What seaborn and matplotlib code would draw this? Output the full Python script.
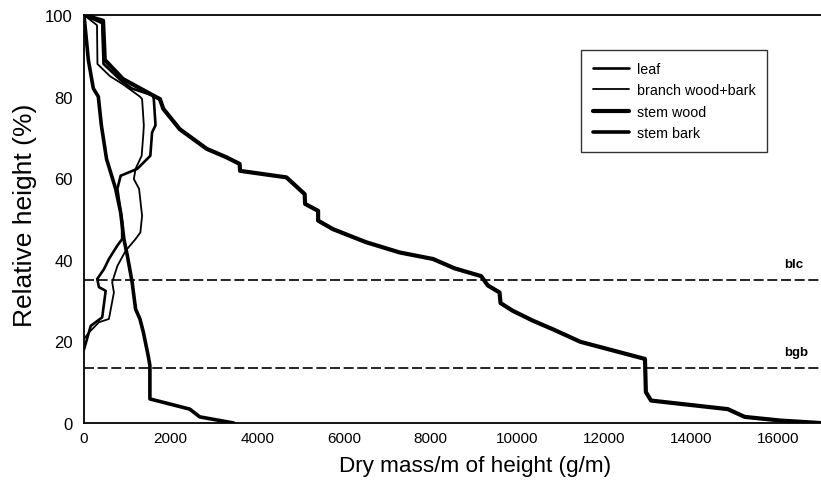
import numpy as np
import pandas as pd
import matplotlib
matplotlib.use("Agg")
import matplotlib.pyplot as plt
import seaborn as sns

# ---- data (x = dry mass g/m, y = relative height %) ----
stem_wood_x = [0, 440, 480, 900, 1590, 1750, 1830, 2210, 2830, 3290, 3590, 3600, 4670, 5090,
               5100, 5400, 5400, 5745, 6510, 7280, 8050, 8550, 9160, 9316, 9585, 9608, 9890,
               10350, 10810, 11450, 12940, 12960, 13080, 14850, 15240, 16070, 16980]
stem_wood_y = [100, 98.6, 89, 84.3, 80.3, 79.4, 77, 72, 67.2, 65.1, 63.5, 61.8, 60.2, 56.1,
               53.7, 52, 49.6, 47.5, 44.3, 41.8, 40.2, 37.9, 36, 33.7, 32, 29.4, 27.5,
               25.1, 23, 19.9, 15.7, 7.6, 5.5, 3.4, 1.5, 0.6, 0]

stem_bark_x = [0, 100, 215, 330, 400, 520, 730, 845, 920, 1000, 1110, 1190, 1290, 1370,
               1480, 1520, 1520, 2440, 2670, 3450]
stem_bark_y = [100, 89, 82, 80, 73, 64.7, 57.4, 51.6, 45.1, 41, 34.5, 27.9, 25.5, 22.2,
               16.5, 14.1, 5.9, 3.4, 1.5, 0]

leaf_x = [0, 420, 450, 850, 1100, 1590, 1610, 1650, 1570, 1530, 1230, 845, 770, 880, 880,
          770, 575, 460, 305, 345, 500, 420, 155, 0]
leaf_y = [100, 98, 88, 84, 82, 80.3, 79.4, 73, 71.2, 65.5, 62.3, 60.6, 57.4, 49.2, 45.1,
          43.5, 40.2, 37.7, 35.3, 33.3, 32.4, 25.9, 23.8, 18]

branch_x = [0, 300, 310, 600, 900, 1290, 1340, 1380, 1370, 1330, 1190, 1150, 1270, 1340,
            1300, 1190, 960, 770, 650, 690, 575, 345, 115, 0]
branch_y = [100, 97.5, 88, 85, 83, 80, 79.4, 73, 71, 65.5, 62.3, 59.8, 57.4, 50.8,
            46.7, 45.1, 42.2, 38.5, 34.5, 32, 25.5, 24.7, 22.2, 20.6]

series_names = ["leaf", "branch wood+bark", "stem wood", "stem bark"]
ref_levels = [35, 13.5]
ref_labels = ["blc", "bgb"]
x_ticks = [0, 2000, 4000, 6000, 8000, 10000, 12000, 14000, 16000]
y_ticks = [0, 20, 40, 60, 80, 100]

sns.set_theme(style="white")
plt.rcParams["font.family"] = ["Liberation Sans", "DejaVu Sans"]
for key in ["text.color", "axes.labelcolor", "xtick.color", "ytick.color"]:
    plt.rcParams[key] = "black"

fig = plt.figure(figsize=(8.21, 4.89), dpi=100)
ax = fig.add_axes([84 / 821, 1 - 424 / 489, 1 - 84 / 821, (424 - 16) / 489])

data = [(leaf_x, leaf_y, 1.9), (branch_x, branch_y, 1.3),
        (stem_wood_x, stem_wood_y, 3.0), (stem_bark_x, stem_bark_y, 2.6)]
for (xs, ys, lw), name in zip(data, series_names):
    df = pd.DataFrame({"x": xs, "y": ys})
    sns.lineplot(data=df, x="x", y="y", sort=False, estimator=None, ax=ax,
                 color="black", linewidth=lw, label=name)

for lvl, lab in zip(ref_levels, ref_labels):
    ax.axhline(lvl, color="black", linewidth=1.2, linestyle=(0, (6, 2.2)), zorder=1)
    ax.text(16150, lvl + 4, lab, fontsize=9.5, fontweight="bold", ha="left", va="center")

ax.set_xlim(0, 17000)
ax.set_ylim(0, 100)
ax.set_xticks(x_ticks)
ax.set_yticks(y_ticks)
ax.set_xticklabels([str(t) for t in x_ticks], fontsize=11)
ax.set_yticklabels([str(t) for t in y_ticks], fontsize=12)
ax.tick_params(axis="x", direction="inout", length=6, width=1, color="black", pad=3)
ax.tick_params(axis="y", direction="out", length=5, width=1, color="black", pad=3)

for side in ["left", "bottom", "top"]:
    ax.spines[side].set_visible(True)
    ax.spines[side].set_color("black")
    ax.spines[side].set_linewidth(1.3)
ax.spines["right"].set_visible(False)

ax.set_xlabel("Dry mass/m of height (g/m)", fontsize=16.2, labelpad=7, x=0.531)
ax.set_ylabel("Relative height (%)", fontsize=19, labelpad=6, y=0.512)

leg = ax.legend(loc="upper left", bbox_to_anchor=(0.674, 0.914), frameon=True,
                fancybox=False, edgecolor="black", fontsize=10.3, handlelength=2.5,
                labelspacing=0.5, borderpad=0.85, handletextpad=0.55,
                borderaxespad=0.0)
leg.get_frame().set_linewidth(1.0)

fig.savefig("out.png", dpi=100)
